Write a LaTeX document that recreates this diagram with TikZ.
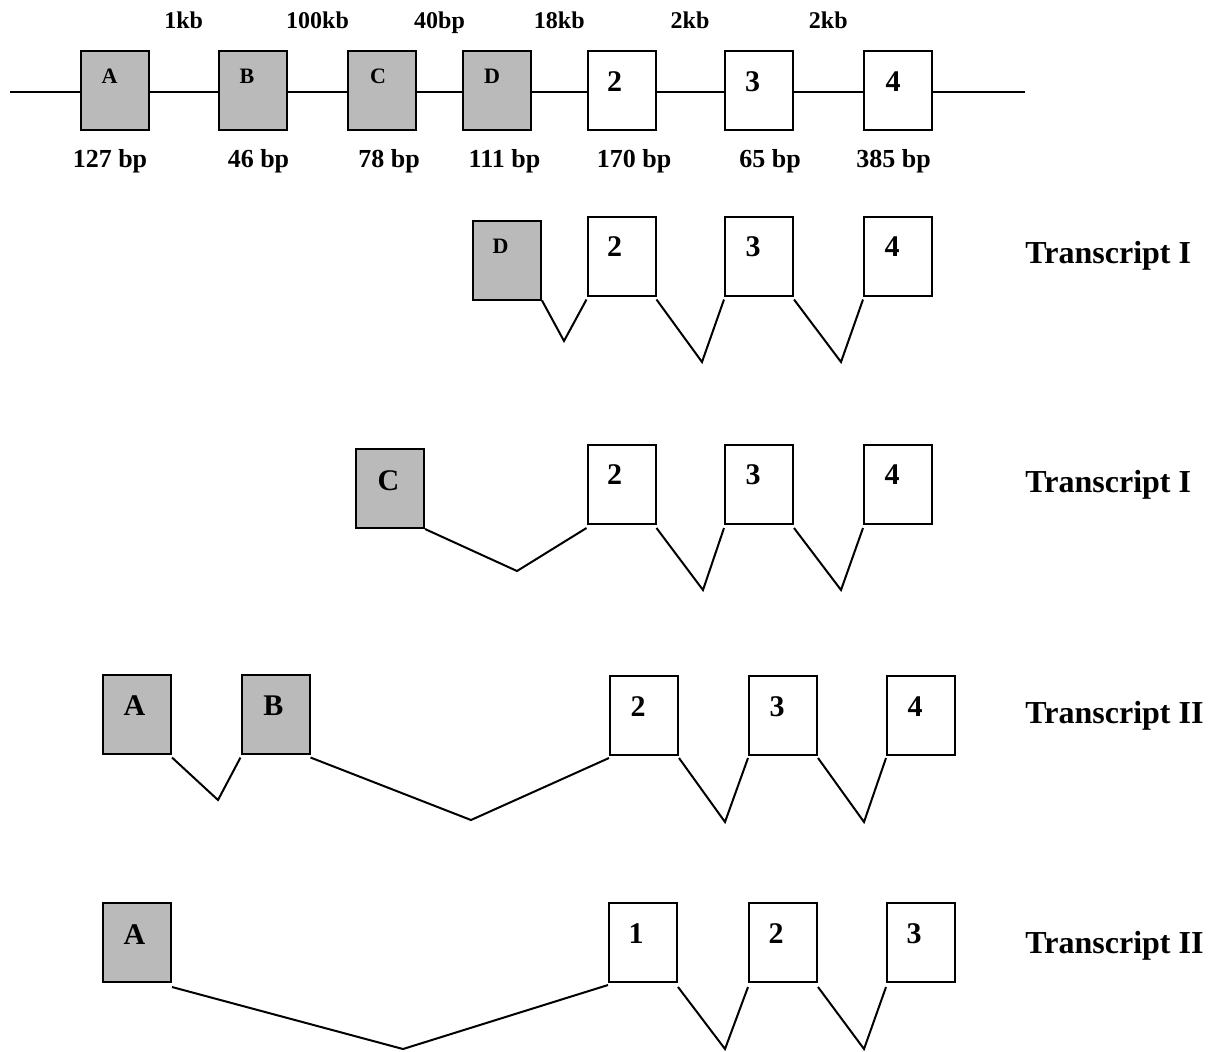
\documentclass[tikz,border=0pt]{standalone}
\usepackage{fontspec}
\setmainfont{Liberation Serif}
\usetikzlibrary{calc}
\begin{document}
\begin{tikzpicture}[x=0.5pt,y=-0.5pt,
  exon/.style={draw,line width=1pt,minimum width=34pt,minimum height=39.5pt,inner sep=0pt,fill=white},
  altexon/.style={exon,fill=black!27},
  splice/.style={line width=1pt,line join=miter},
  backbone/.style={line width=0.8pt},
  smalllbl/.style={font=\bfseries\fontsize{11}{11}\selectfont,anchor=base,inner sep=0pt},
  biglbl/.style={font=\bfseries\fontsize{15}{15}\selectfont,anchor=base,inner sep=0pt},
  distlbl/.style={font=\bfseries\fontsize{12}{12}\selectfont,anchor=base,inner sep=0pt},
  sizelbl/.style={font=\bfseries\fontsize{13}{13}\selectfont,anchor=base,inner sep=0pt},
  title/.style={font=\bfseries\fontsize{16}{16}\selectfont,anchor=base west,inner sep=0pt}]
\useasboundingbox (0,0) rectangle (1214,1051);

% ---------- genomic structure ----------
\node[altexon] (tA) at (114.5,90) {};
\node[altexon] (tB) at (253,90) {};
\node[altexon] (tC) at (382,90) {};
\node[altexon] (tD) at (497,90) {};
\node[exon] (t2) at (621.5,90) {};
\node[exon] (t3) at (758.5,90) {};
\node[exon] (t4) at (898,90) {};

\node[smalllbl] at ($(tA.north)+(-5,34)$) {A};
\node[smalllbl] at ($(tB.north)+(-6,34)$) {B};
\node[smalllbl] at ($(tC.north)+(-4,34)$) {C};
\node[smalllbl] at ($(tD.north)+(-5,34)$) {D};
\node[biglbl] at ($(t2.north)+(-7,42)$) {2};
\node[biglbl] at ($(t3.north)+(-6,42)$) {3};
\node[biglbl] at ($(t4.north)+(-5,42)$) {4};

\coordinate (bbL) at (10,92);
\coordinate (bbR) at (1025,92);
\draw[backbone] (bbL) -- (bbL -| tA.west)
  (bbL -| tA.east) -- (bbL -| tB.west)
  (bbL -| tB.east) -- (bbL -| tC.west)
  (bbL -| tC.east) -- (bbL -| tD.west)
  (bbL -| tD.east) -- (bbL -| t2.west)
  (bbL -| t2.east) -- (bbL -| t3.west)
  (bbL -| t3.east) -- (bbL -| t4.west)
  (bbL -| t4.east) -- (bbR);

% intron lengths
\path ($(tA.east)!.5!(tB.west)$) ++(0,-62) node[distlbl] {1kb};
\path ($(tB.east)!.5!(tC.west)$) ++(0,-62) node[distlbl] {100kb};
\path ($(tC.east)!.5!(tD.west)$) ++(0,-62) node[distlbl] {40bp};
\path ($(tD.east)!.5!(t2.west)$) ++(0,-62) node[distlbl] {18kb};
\path ($(t2.east)!.5!(t3.west)$) ++(0,-62) node[distlbl] {2kb};
\path ($(t3.east)!.5!(t4.west)$) ++(0,-62) node[distlbl] {2kb};

% exon lengths
\node[sizelbl] at (110,167) {127 bp};
\node[sizelbl] at (258.5,167) {46 bp};
\node[sizelbl] at (389,167) {78 bp};
\node[sizelbl] at (504.5,167) {111 bp};
\node[sizelbl] at (634,167) {170 bp};
\node[sizelbl] at (770,167) {65 bp};
\node[sizelbl] at (893.5,167) {385 bp};

% ---------- transcript from exon D ----------
\node[altexon] (aD) at (507,260) {};
\node[exon] (a2) at (621.5,256) {};
\node[exon] (a3) at (759,256) {};
\node[exon] (a4) at (898,256) {};
\node[smalllbl] at ($(aD.north)+(-6.5,34)$) {D};
\node[biglbl] at ($(a2.north)+(-7,41)$) {2};
\node[biglbl] at ($(a3.north)+(-6,41)$) {3};
\node[biglbl] at ($(a4.north)+(-6,41)$) {4};
\node[title] (ta) at (1025,263) {Transcript I};

\coordinate (av1) at (564,341);
\coordinate (av2) at (702,362);
\coordinate (av3) at (841,362);
\draw[splice] (aD.south east) -- (av1) -- ([yshift=-1.5pt]a2.south west);
\draw[splice] ([yshift=-1.5pt]a2.south east) -- (av2) -- ([yshift=-1.5pt]a3.south west);
\draw[splice] ([yshift=-1.5pt]a3.south east) -- (av3) -- ([yshift=-1.5pt]a4.south west);

% ---------- transcript from exon C ----------
\node[altexon] (bC) at (390,488.5) {};
\node[exon] (b2) at (621.5,484.5) {};
\node[exon] (b3) at (759,484.5) {};
\node[exon] (b4) at (898,484.5) {};
\node[biglbl] at ($(bC.north)+(-1.5,42)$) {C};
\node[biglbl] at ($(b2.north)+(-7,40)$) {2};
\node[biglbl] at ($(b3.north)+(-6,40)$) {3};
\node[biglbl] at ($(b4.north)+(-6,40)$) {4};
\node[title] (tb) at (1025,492) {Transcript I};

\coordinate (bv1) at (517,571);
\coordinate (bv2) at (703,590);
\coordinate (bv3) at (841,590);
\draw[splice] (bC.south east) -- (bv1) -- ([yshift=-1.5pt]b2.south west);
\draw[splice] ([yshift=-1.5pt]b2.south east) -- (bv2) -- ([yshift=-1.5pt]b3.south west);
\draw[splice] ([yshift=-1.5pt]b3.south east) -- (bv3) -- ([yshift=-1.5pt]b4.south west);

% ---------- transcript from exons A and B ----------
\node[altexon] (cA) at (137,714) {};
\node[altexon] (cB) at (275.5,714) {};
\node[exon] (c2) at (644,715.5) {};
\node[exon] (c3) at (783,715.5) {};
\node[exon] (c4) at (921,715.5) {};
\node[biglbl] at ($(cA.north)+(-2.5,42)$) {A};
\node[biglbl] at ($(cB.north)+(-2,42)$) {B};
\node[biglbl] at ($(c2.north)+(-6,41)$) {2};
\node[biglbl] at ($(c3.north)+(-6,41)$) {3};
\node[biglbl] at ($(c4.north)+(-6,41)$) {4};
\node[title] (tc) at (1025,723) {Transcript II};

\coordinate (cv1) at (218,800);
\coordinate (cv2) at (471,820);
\coordinate (cv3) at (725,822);
\coordinate (cv4) at (864,822);
\draw[splice] ([yshift=-1.5pt]cA.south east) -- (cv1) -- ([yshift=-1.5pt]cB.south west);
\draw[splice] ([yshift=-1.5pt]cB.south east) -- (cv2) -- ([yshift=-1pt]c2.south west);
\draw[splice] ([yshift=-1pt]c2.south east) -- (cv3) -- ([yshift=-1pt]c3.south west);
\draw[splice] ([yshift=-1pt]c3.south east) -- (cv4) -- ([yshift=-1pt]c4.south west);

% ---------- transcript from exon A ----------
\node[altexon] (dA) at (137,942.5) {};
\node[exon] (d1) at (643,942.5) {};
\node[exon] (d2) at (783,942.5) {};
\node[exon] (d3) at (921,942.5) {};
\node[biglbl] at ($(dA.north)+(-2.5,42)$) {A};
\node[biglbl] at ($(d1.north)+(-7,41)$) {1};
\node[biglbl] at ($(d2.north)+(-7,41)$) {2};
\node[biglbl] at ($(d3.north)+(-7,41)$) {3};
\node[title] (td) at (1025,953) {Transcript II};

\coordinate (dv1) at (403,1049);
\coordinate (dv2) at (725,1049);
\coordinate (dv3) at (864,1049);
\draw[splice] ([yshift=-2pt]dA.south east) -- (dv1) -- ([yshift=-1pt]d1.south west);
\draw[splice] ([yshift=-2pt]d1.south east) -- (dv2) -- ([yshift=-2pt]d2.south west);
\draw[splice] ([yshift=-2pt]d2.south east) -- (dv3) -- ([yshift=-2pt]d3.south west);
\end{tikzpicture}
\end{document}
